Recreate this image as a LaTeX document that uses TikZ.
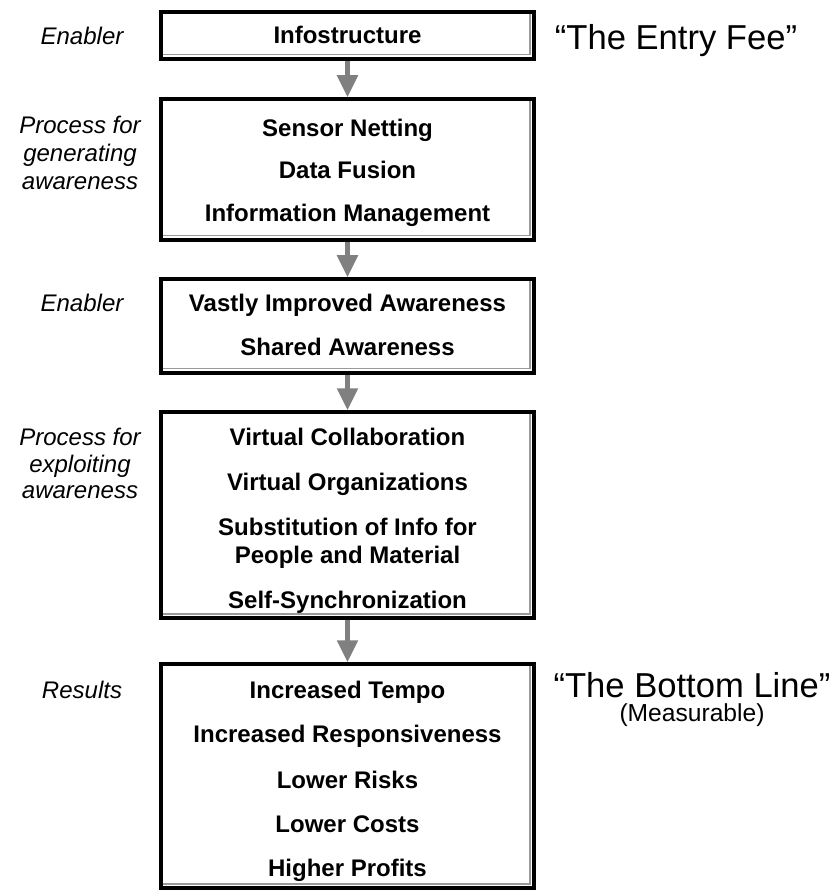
\documentclass[tikz,border=0pt]{standalone}
\usepackage{fontspec}
\setmainfont{Liberation Sans}
\usetikzlibrary{arrows.meta,calc}
\definecolor{arrowgray}{HTML}{808080}
\definecolor{bevelgray}{HTML}{9A9A9A}
\newcommand\boxbevel[1]{\draw[bevel] ($(#1.south west)+(3.5,-6)$) -- ($(#1.south east)+(-6,-6)$) -- ($(#1.north east)+(-6,3.5)$);}
\begin{document}
\begin{tikzpicture}[x=0.5pt,y=-0.5pt,
  box/.style={draw=black,line width=1.75pt,fill=white,minimum width=186.5pt,inner sep=0pt},
  bevel/.style={draw=bevelgray,line width=0.75pt},
  item/.style={font=\bfseries\fontsize{12}{14}\selectfont,text=black,inner sep=0pt,anchor=base},
  side/.style={font=\itshape\fontsize{12}{14}\selectfont,text=black,inner sep=0pt,anchor=base},
  quote/.style={font=\fontsize{17.3}{20}\selectfont,text=black,inner sep=0pt,anchor=base},
  flow/.style={draw=arrowgray,line width=2.5pt,-{Triangle[width=10pt,length=11pt,fill=arrowgray]}}]
\useasboundingbox (0,0) rectangle (833,892);
% boxes
\node[box,minimum height=23.5pt] (b1) at (347.5,35.5) {};
\node[box,minimum height=70.5pt] (b2) at (347.5,169.5) {};
\node[box,minimum height=47pt] (b3) at (347.5,326) {};
\node[box,minimum height=103pt] (b4) at (347.5,515) {};
\node[box,minimum height=112pt] (b5) at (347.5,776) {};
\boxbevel{b1}
\boxbevel{b2}
\boxbevel{b3}
\boxbevel{b4}
\boxbevel{b5}
% arrows
\draw[flow] (b1.south) -- (b2.north);
\draw[flow] (b2.south) -- (b3.north);
\draw[flow] (b3.south) -- (b4.north);
\draw[flow] (b4.south) -- (b5.north);
% box texts
\node[item] (t11) at (347.5,44) {Infostructure};
\node[item] (t21) at (347.5,136.5) {Sensor Netting};
\node[item] (t22) at (347.5,178.5) {Data Fusion};
\node[item] (t23) at (347.5,221.5) {Information Management};
\node[item] (t31) at (347.5,311.5) {Vastly Improved Awareness};
\node[item] (t32) at (347.5,355.5) {Shared Awareness};
\node[item] (t41) at (347.5,445.5) {Virtual Collaboration};
\node[item] (t42) at (347.5,490.5) {Virtual Organizations};
\node[item] (t43) at (347.5,535.5) {Substitution of Info for};
\node[item] (t44) at (347.5,563.5) {People and Material};
\node[item] (t45) at (347.5,608.5) {Self-Synchronization};
\node[item] (t51) at (347.5,698.5) {Increased Tempo};
\node[item] (t52) at (347.5,742.5) {Increased Responsiveness};
\node[item] (t53) at (347.5,788.5) {Lower Risks};
\node[item] (t54) at (347.5,832.5) {Lower Costs};
\node[item] (t55) at (347.5,876.5) {Higher Profits};
% side labels
\node[side] (l1) at (82,45) {Enabler};
\node[side] (l2a) at (80,133.5) {Process for};
\node[side] (l2b) at (80,161.5) {generating};
\node[side] (l2c) at (80,190) {awareness};
\node[side] (l3) at (82,311.5) {Enabler};
\node[side] (l4a) at (80,445.5) {Process for};
\node[side] (l4b) at (80,472) {exploiting};
\node[side] (l4c) at (80,498.5) {awareness};
\node[side] (l5) at (82,698.5) {Results};
% right labels
\node[quote] (r1) at (676,49.5) {“The Entry Fee”};
\node[quote] (r2) at (692,697.5) {“The Bottom Line”};
\node[item,font=\fontsize{12.3}{14}\selectfont] (r3) at (692,721.5) {(Measurable)};
\end{tikzpicture}
\end{document}
